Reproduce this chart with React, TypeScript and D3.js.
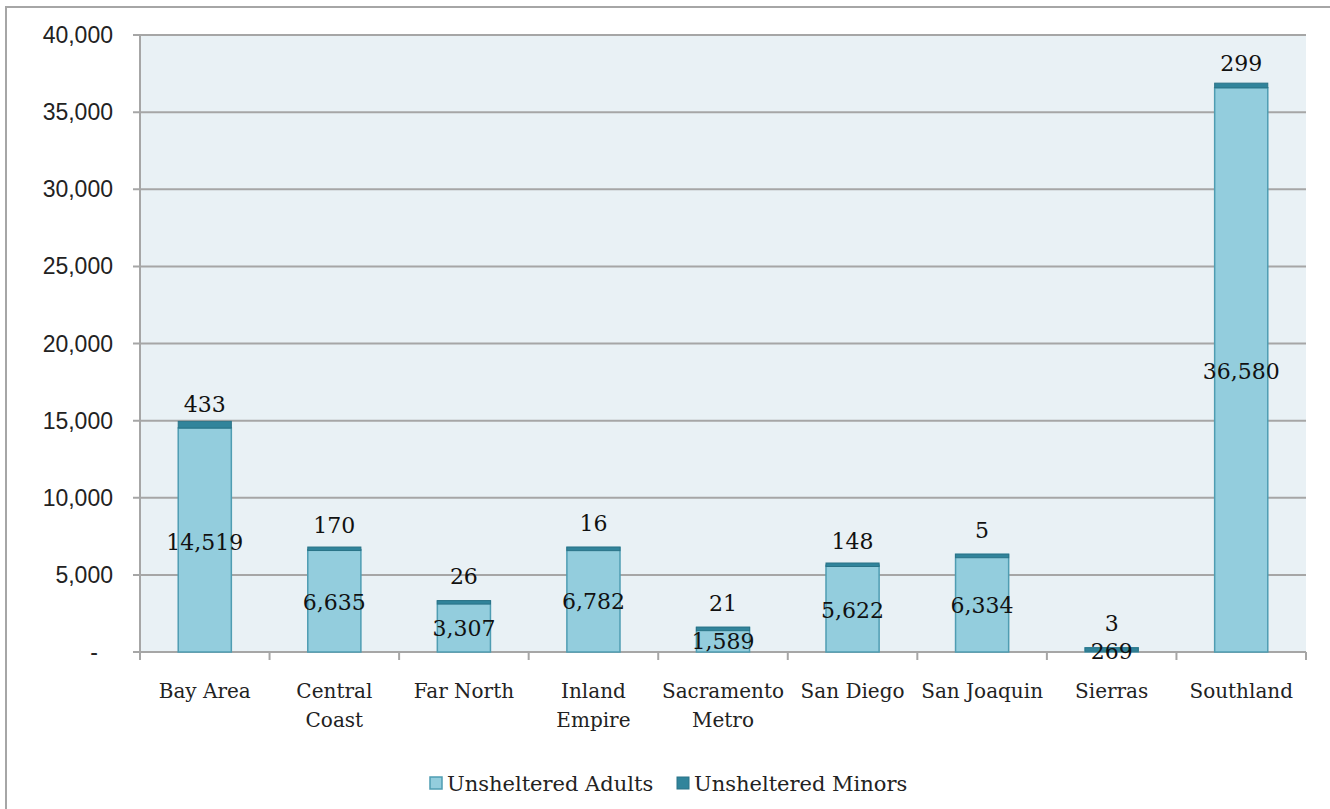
import React from "react";
import * as d3 from "d3";

const categories = [
  ["Bay Area"],
  ["Central", "Coast"],
  ["Far North"],
  ["Inland", "Empire"],
  ["Sacramento", "Metro"],
  ["San Diego"],
  ["San Joaquin"],
  ["Sierras"],
  ["Southland"],
];
const adults = [14519, 6635, 3307, 6782, 1589, 5622, 6334, 269, 36580];
const minors = [433, 170, 26, 16, 21, 148, 5, 3, 299];
const yTicks = [0, 5000, 10000, 15000, 20000, 25000, 30000, 35000, 40000];
const seriesNames = ["Unsheltered Adults", "Unsheltered Minors"];

const W = 1330;
const H = 809;
const left = 140;
const right = 1306;
const top = 35;
const bottom = 652;

const serif = "'DejaVu Serif', serif";
const sans = "'Liberation Sans', Arial, sans-serif";

const adultFill = "#93CDDD";
const adultStroke = "#4F9DB2";
const minorFill = "#31849B";
const minorStroke = "#2A7387";
const grid = "#A6A6A6";

export default function App() {
  const x = d3
    .scaleBand<number>()
    .domain(d3.range(categories.length))
    .range([left, right])
    .paddingInner(0.59)
    .paddingOuter(0.295);
  const band = d3.scaleBand<number>().domain(d3.range(categories.length)).range([left, right]);
  const y = d3.scaleLinear().domain([0, 40000]).range([bottom, top]);
  const fmt = d3.format(",");

  return (
    <svg
      width={W}
      height={H}
      style={{ position: "absolute", left: 0, top: 0, background: "#fff" }}
    >
      <rect x={6} y={7} width={W + 20} height={H + 20} fill="#fff" stroke="#A6A6A6" strokeWidth={2} />
      <rect x={left} y={top} width={right - left} height={bottom - top} fill="#E9F1F5" />
      {yTicks.map((t) => (
        <g key={t}>
          <line x1={133} x2={right} y1={y(t)} y2={y(t)} stroke={grid} strokeWidth={2} />
          <text
            x={t === 0 ? 98 : 113}
            y={y(t)}
            dominantBaseline="central"
            textAnchor="end"
            fontFamily={sans}
            fontSize={23}
            fill="#222"
          >
            {t === 0 ? "-" : fmt(t)}
          </text>
        </g>
      ))}
      <line x1={left} x2={left} y1={top} y2={bottom + 7} stroke={grid} strokeWidth={2} />
      {d3.range(categories.length + 1).map((i) => {
        const xx = i < categories.length ? band(i)! : right;
        return <line key={i} x1={xx} x2={xx} y1={bottom} y2={bottom + 8} stroke={grid} strokeWidth={2} />;
      })}
      {categories.map((c, i) => {
        const bx = x(i)!;
        const bw = x.bandwidth();
        const a = adults[i];
        const m = minors[i];
        const cx = bx + bw / 2;
        return (
          <g key={i}>
            <rect x={bx} y={y(a)} width={bw} height={y(0) - y(a)} fill={adultFill} stroke={adultStroke} strokeWidth={1.5} />
            <rect x={bx} y={y(a + m)} width={bw} height={Math.max(3.5, y(a) - y(a + m))} fill={minorFill} stroke={minorStroke} strokeWidth={1} />
            <text x={cx} y={(y(a) + y(0)) / 2 + 2} textAnchor="middle" dominantBaseline="central" fontFamily={serif} fontSize={22} fill="#111">
              {fmt(a)}
            </text>
            <text x={cx} y={y(a) - 24} textAnchor="middle" dominantBaseline="central" fontFamily={serif} fontSize={22} fill="#111">
              {fmt(m)}
            </text>
            {c.map((line, k) => (
              <text key={k} x={band(i)! + band.bandwidth() / 2} y={691 + k * 29} textAnchor="middle" dominantBaseline="central" fontFamily={serif} fontSize={20} fill="#222">
                {line}
              </text>
            ))}
          </g>
        );
      })}
      <g>
        <rect x={430} y={777} width={12} height={12} fill={adultFill} stroke={adultStroke} strokeWidth={1.5} />
        <text x={447} y={784} dominantBaseline="central" fontFamily={serif} fontSize={21} fill="#222">
          {seriesNames[0]}
        </text>
        <rect x={677} y={777} width={12} height={12} fill={minorFill} stroke={minorStroke} strokeWidth={1} />
        <text x={694} y={784} dominantBaseline="central" fontFamily={serif} fontSize={21} fill="#222">
          {seriesNames[1]}
        </text>
      </g>
    </svg>
  );
}
